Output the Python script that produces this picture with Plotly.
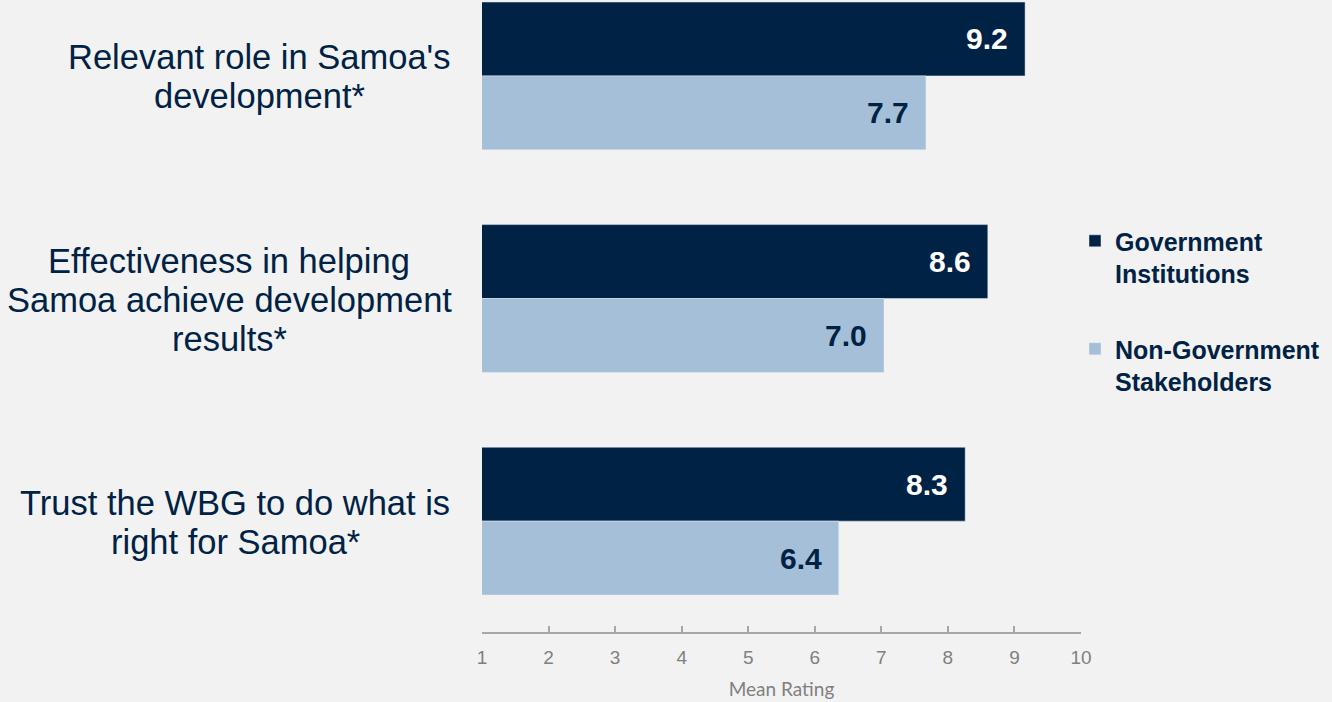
import plotly.graph_objects as go

# categorias (quebras de linha como no slide)
categorias = [
    ["Relevant role in Samoa's", "development*"],
    ["Effectiveness in helping", "Samoa achieve development", "results*"],
    ["Trust the WBG to do what is", "right for Samoa*"],
]
governo = [9.16, 8.6, 8.26]
nao_governo = [7.67, 7.04, 6.36]
serie_nomes = ["<b>Government<br>Institutions</b>", "<b>Non-Government<br>Stakeholders</b>"]
eixo_ticks = [1, 2, 3, 4, 5, 6, 7, 8, 9, 10]

AZUL_ESCURO = "#002245"
AZUL_CLARO = "#a4bfd7"
FUNDO = "#f2f2f2"
FONTE = "Liberation Sans, Arial, sans-serif"

# centro horizontal (px) de cada bloco de rótulo
CENTRO_ROTULO = [259, 229, 235]

pos_y = list(range(len(categorias)))

fig = go.Figure()
fig.add_trace(go.Bar(y=pos_y, x=governo, orientation="h", name=serie_nomes[0],
                     marker_color=AZUL_ESCURO, legendgroup="g1"))
fig.add_trace(go.Bar(y=pos_y, x=nao_governo, orientation="h", name=serie_nomes[1],
                     marker_color=AZUL_CLARO, legendgroup="g2"))

# rótulos de valor dentro das barras
anots = []
for i, (g, n) in enumerate(zip(governo, nao_governo)):
    anots.append(dict(x=g, y=i - 0.166, xref="x", yref="y", text=f"<b>{g:.1f}</b>",
                      showarrow=False, xanchor="right", yanchor="middle", xshift=-15,
                      font=dict(size=30, color="white", family=FONTE)))
    anots.append(dict(x=n, y=i + 0.166, xref="x", yref="y", text=f"<b>{n:.1f}</b>",
                      showarrow=False, xanchor="right", yanchor="middle", xshift=-15,
                      font=dict(size=30, color=AZUL_ESCURO, family=FONTE)))

# rótulos das categorias, linha a linha, centralizados no bloco
for i, linhas in enumerate(categorias):
    k = len(linhas)
    for j, linha in enumerate(linhas):
        anots.append(dict(x=0, y=i, xref="paper", yref="y", text=linha, showarrow=False,
                          xanchor="center", yanchor="middle",
                          xshift=CENTRO_ROTULO[i] - 482,
                          yshift=-(j - (k - 1) / 2) * 39 - 1,
                          font=dict(size=34.5, color=AZUL_ESCURO, family=FONTE)))

fig.update_layout(
    width=1332, height=702,
    paper_bgcolor=FUNDO, plot_bgcolor=FUNDO,
    margin=dict(l=482, r=251, t=0, b=70),
    barmode="group", bargap=0.336, bargroupgap=0,
    annotations=anots,
    legend=dict(x=0.99, xanchor="left", xref="paper", y=0.655, yanchor="top",
                traceorder="grouped", tracegroupgap=40, valign="top",
                itemwidth=30, bgcolor="rgba(0,0,0,0)",
                font=dict(size=25, color=AZUL_ESCURO, family=FONTE)),
    xaxis=dict(range=[1, 10], tickvals=eixo_ticks, showgrid=False, zeroline=False,
               showline=True, linecolor="#a6a6a6", linewidth=2,
               ticks="inside", ticklen=6, tickcolor="#a6a6a6", tickwidth=1.5,
               ticklabelstandoff=7,
               tickfont=dict(size=19, color="#808080", family=FONTE),
               title=dict(text="Mean Rating", standoff=16,
                          font=dict(size=19, color="#808080", family="Lato, sans-serif"))),
    yaxis=dict(range=[2.498, -0.341], showticklabels=False, showgrid=False,
               zeroline=False, showline=False),
)

fig.write_html("out.html", config={"displayModeBar": False},
               post_script="document.body.style.margin='0';")
